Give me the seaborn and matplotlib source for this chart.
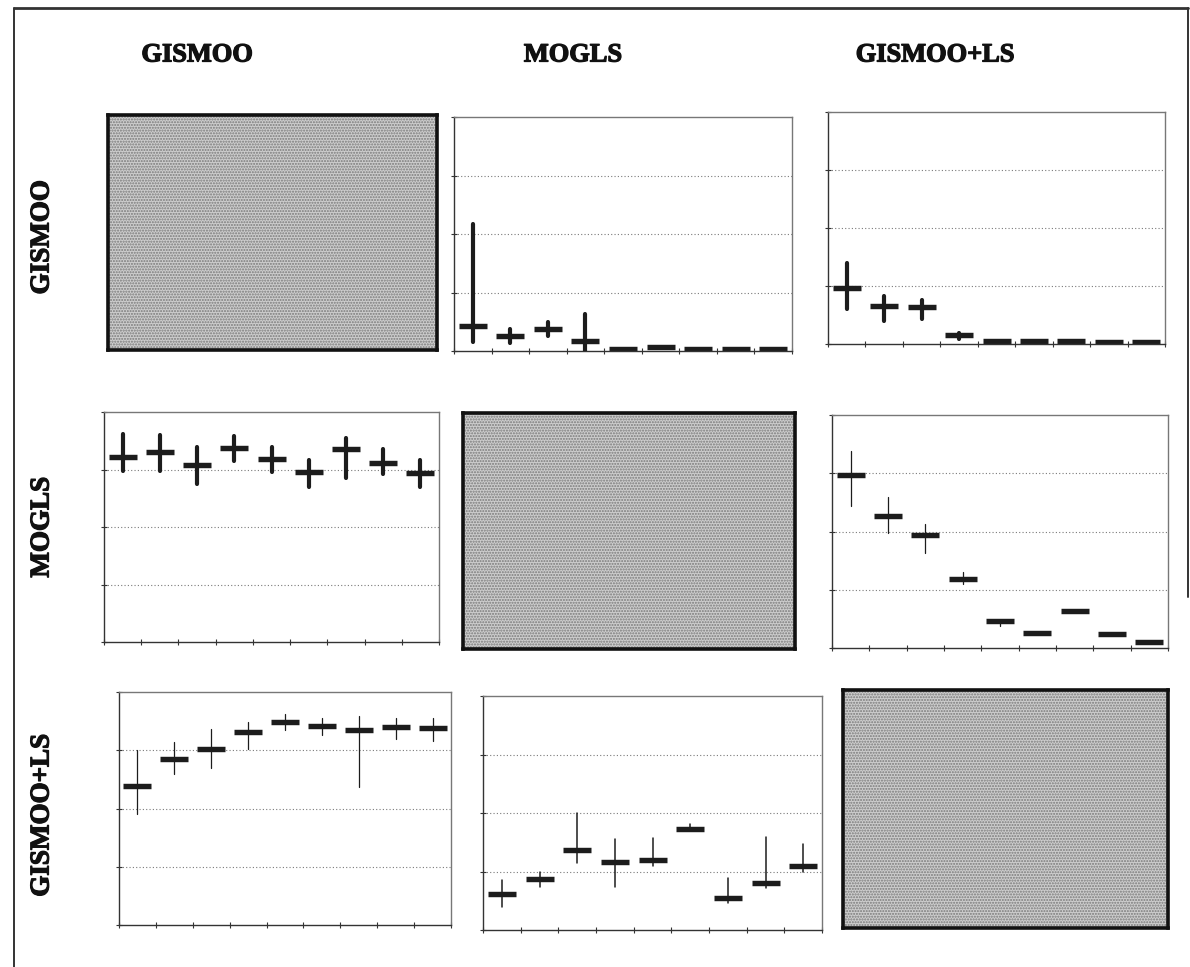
import numpy as np
import pandas as pd
import matplotlib
matplotlib.use("Agg")
import matplotlib.pyplot as plt
import matplotlib.patheffects as pe
import seaborn as sns
from matplotlib.lines import Line2D
from matplotlib.patches import Rectangle

# Algorithms compared pairwise (rows vs. columns)
methods = ["GISMOO", "MOGLS", "GISMOO+LS"]
slots = [f"S{i}" for i in range(1, 10)]

# GISMOO row vs MOGLS column: median, lower and upper bound per slot
g_m_med = [0.43, 0.26, 0.38, 0.17, 0.04, 0.075, 0.03, 0.03, 0.03]
g_m_low = [0.16, 0.13, 0.25, 0.00, 0.04, 0.075, 0.03, 0.03, 0.03]
g_m_high = [2.17, 0.37, 0.50, 0.64, 0.04, 0.075, 0.03, 0.03, 0.03]

# GISMOO row vs GISMOO+LS column
g_gl_med = [0.97, 0.65, 0.63, 0.15, 0.06, 0.06, 0.06, 0.04, 0.04]
g_gl_low = [0.60, 0.39, 0.43, 0.09, 0.06, 0.06, 0.06, 0.04, 0.04]
g_gl_high = [1.39, 0.82, 0.76, 0.19, 0.06, 0.06, 0.06, 0.04, 0.04]

# MOGLS row vs GISMOO column
m_g_med = [3.21, 3.30, 3.08, 3.38, 3.19, 2.95, 3.35, 3.12, 2.94]
m_g_low = [2.98, 2.98, 2.75, 3.14, 2.95, 2.70, 2.85, 2.92, 2.70]
m_g_high = [3.62, 3.60, 3.40, 3.59, 3.40, 3.17, 3.55, 3.35, 3.17]

# MOGLS row vs GISMOO+LS column
m_gl_med = [2.97, 2.26, 1.94, 1.19, 0.47, 0.26, 0.64, 0.24, 0.11]
m_gl_low = [2.43, 1.98, 1.63, 1.10, 0.38, 0.26, 0.64, 0.24, 0.11]
m_gl_high = [3.39, 2.59, 2.13, 1.31, 0.47, 0.26, 0.64, 0.24, 0.11]

# GISMOO+LS row vs GISMOO column
gl_g_med = [2.39, 2.85, 3.03, 3.31, 3.48, 3.42, 3.34, 3.40, 3.38]
gl_g_low = [1.91, 2.60, 2.70, 3.03, 3.34, 3.27, 2.37, 3.19, 3.16]
gl_g_high = [3.00, 3.14, 3.37, 3.49, 3.62, 3.56, 3.59, 3.56, 3.56]

# GISMOO+LS row vs MOGLS column
gl_m_med = [0.61, 0.88, 1.36, 1.17, 1.19, 1.73, 0.54, 0.81, 1.10]
gl_m_low = [0.40, 0.74, 1.15, 0.74, 1.09, 1.69, 0.46, 0.71, 1.00]
gl_m_high = [0.86, 1.00, 2.00, 1.56, 1.57, 1.82, 0.89, 1.59, 1.47]

ymax = 4
grid_levels = [1, 2, 3]

sns.set_theme(style="white")
plt.rcParams["font.family"] = ["Liberation Serif", "DejaVu Serif"]

fig = plt.figure(figsize=(11.9, 9.67), dpi=100)
W, H = 1190, 967


def add_axes_px(x0, y0, x1, y1):
    return fig.add_axes([x0 / W, 1 - y1 / H, (x1 - x0) / W, (y1 - y0) / H])


# panel boxes in pixels: (left, top, right, bottom)
boxes = {
    (0, 0): (108, 115, 437, 350),
    (0, 1): (454, 117, 792, 351),
    (0, 2): (828, 112, 1165, 344),
    (1, 0): (104, 412, 439, 642),
    (1, 1): (463, 413, 795, 649),
    (1, 2): (832, 415, 1168, 648),
    (2, 0): (119, 692, 451, 925),
    (2, 1): (483, 696, 822, 930),
    (2, 2): (843, 690, 1168, 928),
}

panels = {
    (0, 1): (g_m_med, g_m_low, g_m_high, 3.0),
    (0, 2): (g_gl_med, g_gl_low, g_gl_high, 3.0),
    (1, 0): (m_g_med, m_g_low, m_g_high, 3.0),
    (1, 2): (m_gl_med, m_gl_low, m_gl_high, 0.9),
    (2, 0): (gl_g_med, gl_g_low, gl_g_high, 0.9),
    (2, 1): (gl_m_med, gl_m_low, gl_m_high, 1.1),
}

ink = "#1c1c1c"

for (r, c), box in boxes.items():
    ax = add_axes_px(*box)
    if r == c:
        # diagonal cell: shaded block with heavy frame
        ax.set_facecolor("#cdcdcd")
        ax.add_patch(Rectangle((0, 0), 1, 1, transform=ax.transAxes,
                               facecolor="none", edgecolor="#7a7a7a",
                               hatch="......", lw=0))
        ax.set_xticks([])
        ax.set_yticks([])
        for s in ax.spines.values():
            s.set_linewidth(2.6)
            s.set_color("#111111")
        continue

    med, low, high, wlw = panels[(r, c)]
    rows = []
    for s, lo, m, hi in zip(slots, low, med, high):
        for v in (lo, m, hi):
            rows.append({"slot": s, "value": v})
    df = pd.DataFrame(rows)

    sns.pointplot(data=df, x="slot", y="value", order=slots,
                  estimator="median", errorbar=("pi", 100),
                  linestyle="none", marker="_", markersize=19.5,
                  markeredgewidth=3.9, color=ink,
                  err_kws={"linewidth": wlw, "color": ink},
                  capsize=0, ax=ax)

    ax.set_xlim(-0.5, len(slots) - 0.5)
    ax.set_ylim(0, ymax)
    ax.set_xticks(np.arange(-0.5, len(slots), 1.0))
    ax.set_yticks(np.arange(0, ymax + 1, 1))
    ax.set_xticklabels([])
    ax.set_yticklabels([])
    ax.set_xlabel("")
    ax.set_ylabel("")
    ax.tick_params(axis="both", direction="inout", length=5, width=0.8,
                   color="#333333", bottom=True, left=True)
    for g in grid_levels:
        ax.axhline(g, color="#7a7a7a", lw=0.8, ls=(0, (1, 2)), zorder=0)
    for name, s in ax.spines.items():
        s.set_linewidth(1.0)
        s.set_color("#333333" if name in ("left", "bottom") else "#777777")

heavy = [pe.withStroke(linewidth=0.9, foreground="#111111")]

# column headings
col_x = [197, 573, 935]
for name, x in zip(methods, col_x):
    fig.text(x / W, 1 - 55 / H, name, ha="center", va="center",
             fontsize=19, fontweight="bold", color="#111111",
             path_effects=heavy)

# row headings
row_y = [237, 527, 815]
for name, y in zip(methods, row_y):
    fig.text(42 / W, 1 - y / H, name, ha="center", va="center",
             rotation=90, fontsize=19.5, fontweight="bold", color="#111111",
             path_effects=heavy)

# outer frame
frame_kw = dict(color="#333333", lw=1.4, transform=fig.transFigure)
fig.add_artist(Line2D([14 / W, 14 / W], [1 - 8 / H, 0], **frame_kw))
fig.add_artist(Line2D([14 / W, 1188 / W], [1 - 8 / H, 1 - 8 / H],
                      color="#333333", lw=2.0, transform=fig.transFigure))
fig.add_artist(Line2D([1188 / W, 1188 / W], [1 - 8 / H, 1 - 597 / H], **frame_kw))

fig.savefig("out.png", dpi=100)
